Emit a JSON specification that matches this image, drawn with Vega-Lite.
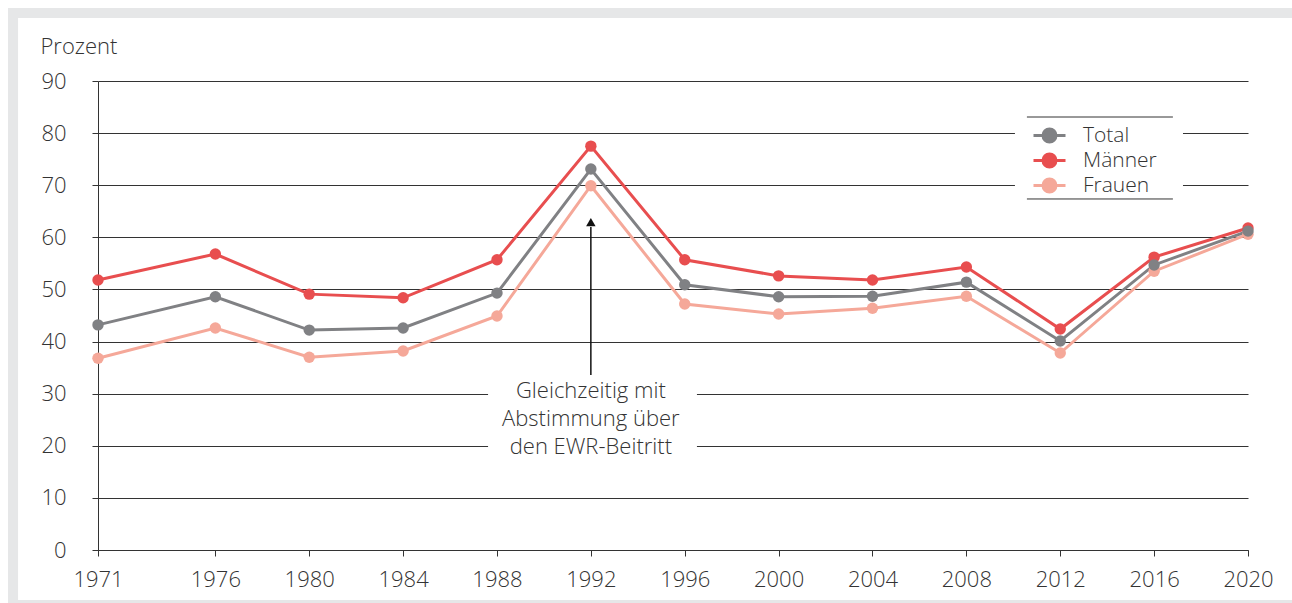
{
  "$schema": "https://vega.github.io/schema/vega-lite/v6.json",
  "width": 1150,
  "height": 469,
  "autosize": {"type": "none"},
  "padding": {"left": 98, "top": 81, "right": 44, "bottom": 53},
  "background": "white",
  "config": {
    "font": "Open Sans",
    "view": {"stroke": null},
    "axis": {
      "labelFont": "Open Sans",
      "labelFontSize": 22,
      "labelFontWeight": 300,
      "labelColor": "#333333",
      "tickColor": "#333333",
      "domainColor": "#333333",
      "tickSize": 6,
      "tickWidth": 1,
      "domainWidth": 1
    },
    "legend": {
      "labelFont": "Open Sans",
      "labelFontSize": 22,
      "labelFontWeight": 300,
      "labelColor": "#333333"
    }
  },
  "datasets": {
    "turnout": [
      {"year": 1971, "series": "Frauen", "value": 36.8},
      {"year": 1976, "series": "Frauen", "value": 42.6},
      {"year": 1980, "series": "Frauen", "value": 37.0},
      {"year": 1984, "series": "Frauen", "value": 38.2},
      {"year": 1988, "series": "Frauen", "value": 44.9},
      {"year": 1992, "series": "Frauen", "value": 69.9},
      {"year": 1996, "series": "Frauen", "value": 47.2},
      {"year": 2000, "series": "Frauen", "value": 45.3},
      {"year": 2004, "series": "Frauen", "value": 46.4},
      {"year": 2008, "series": "Frauen", "value": 48.7},
      {"year": 2012, "series": "Frauen", "value": 37.8},
      {"year": 2016, "series": "Frauen", "value": 53.5},
      {"year": 2020, "series": "Frauen", "value": 60.6},
      {"year": 1971, "series": "Männer", "value": 51.8},
      {"year": 1976, "series": "Männer", "value": 56.8},
      {"year": 1980, "series": "Männer", "value": 49.1},
      {"year": 1984, "series": "Männer", "value": 48.4},
      {"year": 1988, "series": "Männer", "value": 55.7},
      {"year": 1992, "series": "Männer", "value": 77.5},
      {"year": 1996, "series": "Männer", "value": 55.7},
      {"year": 2000, "series": "Männer", "value": 52.6},
      {"year": 2004, "series": "Männer", "value": 51.8},
      {"year": 2008, "series": "Männer", "value": 54.3},
      {"year": 2012, "series": "Männer", "value": 42.4},
      {"year": 2016, "series": "Männer", "value": 56.2},
      {"year": 2020, "series": "Männer", "value": 61.8},
      {"year": 1971, "series": "Total", "value": 43.2},
      {"year": 1976, "series": "Total", "value": 48.6},
      {"year": 1980, "series": "Total", "value": 42.2},
      {"year": 1984, "series": "Total", "value": 42.6},
      {"year": 1988, "series": "Total", "value": 49.3},
      {"year": 1992, "series": "Total", "value": 73.1},
      {"year": 1996, "series": "Total", "value": 50.9},
      {"year": 2000, "series": "Total", "value": 48.6},
      {"year": 2004, "series": "Total", "value": 48.7},
      {"year": 2008, "series": "Total", "value": 51.4},
      {"year": 2012, "series": "Total", "value": 40.1},
      {"year": 2016, "series": "Total", "value": 54.7},
      {"year": 2020, "series": "Total", "value": 61.2}
    ]
  },
  "layer": [
    {
      "data": {"values": [{}]},
      "mark": {"type": "rect", "fill": "transparent", "stroke": "#e6e7e8", "strokeWidth": 10, "clip": false},
      "encoding": {
        "x": {"datum": 1967.38, "type": "quantitative", "scale": {"domain": [1971, 2020], "nice": false, "zero": false}},
        "x2": {"datum": 2023},
        "y": {"datum": 103.05, "type": "quantitative", "scale": {"domain": [0, 90], "nice": false}},
        "y2": {"datum": -10.55}
      }
    },
    {
      "data": {"values": [{}]},
      "mark": {"type": "rect", "fill": "white", "clip": false},
      "encoding": {
        "x": {"datum": 1987.62, "type": "quantitative"},
        "x2": {"datum": 1996.52},
        "y": {"datum": 37, "type": "quantitative"},
        "y2": {"datum": 14}
      }
    },
    {
      "data": {"values": [{}]},
      "mark": {"type": "rect", "fill": "white", "clip": false},
      "encoding": {
        "x": {"datum": 2010.07, "type": "quantitative"},
        "x2": {"datum": 2017.23},
        "y": {"datum": 82.4, "type": "quantitative"},
        "y2": {"datum": 68.2}
      }
    },
    {
      "data": {"values": [{"lv": 83.09}, {"lv": 67.36}]},
      "mark": {"type": "rule", "color": "#333333", "strokeWidth": 1},
      "encoding": {
        "x": {"datum": 2010.58, "type": "quantitative"},
        "x2": {"datum": 2016.8},
        "y": {"field": "lv", "type": "quantitative"}
      }
    },
    {
      "data": {"name": "turnout"},
      "mark": {"type": "line", "strokeWidth": 3},
      "encoding": {
        "x": {
          "field": "year", "type": "quantitative",
          "axis": {
            "values": [1971, 1976, 1980, 1984, 1988, 1992, 1996, 2000, 2004, 2008, 2012, 2016, 2020],
            "format": "d", "title": null, "grid": false, "labelPadding": 13, "labelFlush": false
          }
        },
        "y": {
          "field": "value", "type": "quantitative",
          "axis": {
            "values": [0, 10, 20, 30, 40, 50, 60, 70, 80, 90],
            "grid": true, "gridColor": "#333333", "gridWidth": 1,
            "labelPadding": 26,
            "title": "Prozent", "titleAngle": 0, "titleX": -58, "titleY": -28,
            "titleAlign": "left", "titleBaseline": "alphabetic",
            "titleFont": "Open Sans", "titleFontSize": 22, "titleFontWeight": 300, "titleColor": "#333333"
          }
        },
        "color": {
          "field": "series", "type": "nominal",
          "scale": {"domain": ["Total", "Männer", "Frauen"], "range": ["#808184", "#e84e4f", "#f5a899"]},
          "legend": {
            "orient": "none", "legendX": 941, "legendY": 44,
            "title": null,
            "symbolType": "M-2,0L2,0M-0.81,0A0.81,0.81 0 1,0 0.81,0A0.81,0.81 0 1,0 -0.81,0Z",
            "symbolSize": 256,
            "symbolStrokeWidth": 3,
            "labelOffset": 23,
            "labelFontSize": 21,
            "padding": 0,
            "rowPadding": 0,
            "encode": {
              "symbols": {
                "update": {
                  "fill": {"scale": "color", "field": "value"},
                  "stroke": {"scale": "color", "field": "value"},
                  "opacity": {"value": 1}
                }
              }
            }
          }
        }
      }
    },
    {
      "data": {"name": "turnout"},
      "mark": {"type": "point", "filled": true, "size": 130, "opacity": 1},
      "encoding": {
        "x": {"field": "year", "type": "quantitative"},
        "y": {"field": "value", "type": "quantitative"},
        "color": {"field": "series", "type": "nominal", "legend": null}
      }
    },
    {
      "data": {"values": [{}]},
      "mark": {"type": "rule", "color": "#111111", "strokeWidth": 1.5},
      "encoding": {
        "x": {"datum": 1992, "type": "quantitative"},
        "y": {"datum": 33.6, "type": "quantitative"},
        "y2": {"datum": 62}
      }
    },
    {
      "data": {"values": [{}]},
      "mark": {"type": "point", "shape": "triangle-up", "filled": true, "color": "#111111", "size": 90, "opacity": 1},
      "encoding": {
        "x": {"datum": 1992, "type": "quantitative"},
        "y": {"datum": 62.9, "type": "quantitative"}
      }
    },
    {
      "data": {"values": [{"note": "Gleichzeitig mit\nAbstimmung über\nden EWR-Beitritt"}]},
      "mark": {"type": "text", "lineBreak": "\n", "lineHeight": 28, "fontSize": 22, "fontWeight": 300, "font": "Open Sans", "color": "#333333", "align": "center", "baseline": "middle"},
      "encoding": {
        "x": {"datum": 1992, "type": "quantitative"},
        "y": {"datum": 30.5, "type": "quantitative"},
        "text": {"field": "note"}
      }
    }
  ]
}
